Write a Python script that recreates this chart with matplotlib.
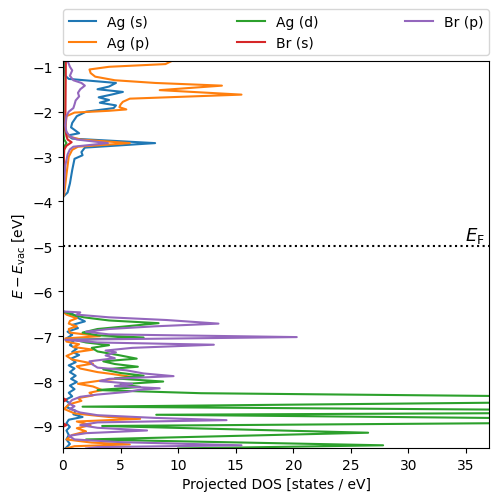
import numpy as np
import matplotlib
matplotlib.use("Agg")
import matplotlib.pyplot as plt

# ---------------- data (energy [eV], projected DOS [states/eV]) ----------------
ag_s_E_up = [-0.87, -1.20, -1.27, -1.36, -1.44, -1.50, -1.56, -1.62, -1.68, -1.74, -1.80, -1.86, -1.92,
             -2.00, -2.10, -2.25, -2.35, -2.48, -2.53, -2.60, -2.70, -2.80, -2.90, -2.97, -3.05, -3.30,
             -3.60, -3.80, -3.90]
ag_s_D_up = [0.1, 0.2, 0.5, 4.6, 4.0, 3.0, 5.2, 4.2, 3.1, 4.0, 3.2, 4.6, 4.4,
             2.0, 1.2, 0.8, 0.7, 1.4, 0.4, 0.8, 8.0, 1.9, 1.6, 1.7, 1.0, 0.8,
             0.6, 0.4, 0.0]
ag_s_E_lo = [-6.45, -6.50, -6.58, -6.67, -6.75, -6.82, -6.90, -6.97, -7.05, -7.12, -7.20, -7.28, -7.35,
             -7.42, -7.50, -7.58, -7.65, -7.72, -7.80, -7.88, -7.95, -8.02, -8.10, -8.18, -8.26, -8.34,
             -8.42, -8.50, -8.58, -8.66, -8.74, -8.80, -8.86, -8.94, -9.02, -9.10, -9.20, -9.30, -9.40, -9.50]
ag_s_D_lo = [0.0, 0.8, 1.2, 1.9, 0.8, 1.3, 0.4, 0.8, 0.3, 0.9, 0.6, 1.2, 0.8,
             1.4, 0.7, 1.1, 0.5, 1.0, 0.6, 1.1, 0.7, 1.2, 0.6, 1.0, 0.5, 0.8,
             0.2, 0.6, 0.3, 1.1, 0.9, 1.7, 0.5, 0.3, 0.6, 0.3, 0.5, 0.3, 0.6, 0.2]

ag_p_E_up = [-0.80, -0.94, -1.00, -1.06, -1.14, -1.22, -1.30, -1.36, -1.42, -1.52, -1.62, -1.71, -1.78,
             -1.84, -1.90, -1.95, -1.98, -2.02, -2.10, -2.40, -2.55, -2.62, -2.70, -2.78, -2.85, -3.00,
             -3.40, -3.85, -3.90]
ag_p_D_up = [10.0, 8.9, 4.0, 2.3, 2.4, 2.8, 4.5, 8.0, 13.8, 8.4, 15.5, 5.8, 5.2,
             5.0, 4.9, 5.5, 4.0, 1.0, 0.3, 0.2, 0.5, 1.5, 5.8, 1.3, 0.8, 0.5,
             0.3, 0.1, 0.0]
ag_p_E_lo = [-6.45, -6.52, -6.60, -6.66, -6.72, -6.78, -6.84, -6.92, -7.00, -7.05, -7.12, -7.18, -7.24,
             -7.30, -7.36, -7.44, -7.52, -7.61, -7.67, -7.72, -7.80, -7.84, -7.91, -7.98, -8.06, -8.12,
             -8.20, -8.26, -8.32, -8.38, -8.44, -8.52, -8.62, -8.72, -8.80, -8.84, -8.90, -8.98, -9.05,
             -9.12, -9.20, -9.30, -9.37, -9.41, -9.45, -9.50]
ag_p_D_lo = [0.0, 0.3, 1.2, 0.6, 0.5, 1.2, 0.5, 0.6, 3.2, 0.2, 0.3, 1.4, 0.9,
             2.6, 1.0, 0.3, 0.8, 2.6, 1.2, 1.5, 3.0, 4.2, 6.1, 3.5, 1.3, 2.6,
             3.4, 2.3, 2.6, 1.3, 1.6, 0.5, 0.1, 1.0, 4.0, 6.7, 1.2, 2.4, 1.2,
             2.0, 0.8, 0.3, 2.5, 5.8, 1.0, 0.3]

ag_d_E_up = [-0.87, -2.50, -2.62, -2.70, -2.78, -3.90]
ag_d_D_up = [0.05, 0.05, 0.1, 0.3, 0.1, 0.0]
ag_d_E_lo = [-6.45, -6.52, -6.58, -6.65, -6.71, -6.78, -6.84, -6.92, -6.98, -7.03, -7.08, -7.14, -7.20,
             -7.26, -7.34, -7.42, -7.50, -7.56, -7.62, -7.68, -7.74, -7.82, -7.88, -7.94, -8.01, -8.07,
             -8.13, -8.20, -8.27, -8.35, -8.41, -8.47, -8.57, -8.64, -8.67, -8.71, -8.75, -8.84, -8.89,
             -8.93, -9.00, -9.15, -9.30, -9.43, -9.50]
ag_d_D_lo = [0.0, 0.8, 1.8, 4.0, 8.3, 5.5, 3.0, 1.7, 3.0, 7.0, 1.0, 2.0, 4.0,
             2.5, 3.0, 4.8, 6.4, 3.5, 4.5, 6.5, 3.5, 5.0, 7.0, 4.5, 8.7, 5.0,
             6.7, 3.0, 12.0, 45.0, 38.0, 42.0, 1.7, 40.0, 38.0, 42.0, 8.1, 45.0, 38.0,
             42.0, 3.4, 26.5, 2.0, 27.8, 10.0]

br_s_E_up = [-0.87, -2.40, -2.55, -2.62, -2.68, -2.76, -2.85, -3.90]
br_s_D_up = [0.25, 0.2, 0.3, 0.4, 0.75, 0.3, 0.1, 0.0]
br_s_E_lo = [-6.45, -8.38, -8.42, -8.46, -8.94, -8.98, -9.02, -9.50]
br_s_D_lo = [0.0, 0.0, 0.3, 0.0, 0.0, 0.3, 0.0, 0.0]

br_p_E_up = [-0.87, -1.00, -1.08, -1.20, -1.30, -1.36, -1.42, -1.50, -1.58, -1.66, -1.75, -1.84, -1.92,
             -2.00, -2.10, -2.30, -2.45, -2.55, -2.62, -2.70, -2.78, -2.84, -2.95, -3.20, -3.60, -3.90]
br_p_D_up = [0.4, 0.6, 0.8, 0.6, 0.9, 1.6, 1.9, 1.5, 1.3, 1.4, 1.1, 1.0, 0.9,
             0.5, 0.3, 0.2, 0.3, 0.6, 1.2, 3.9, 0.9, 0.6, 0.4, 0.2, 0.1, 0.0]
br_p_E_lo = [-6.45, -6.47, -6.52, -6.58, -6.64, -6.72, -6.78, -6.84, -6.90, -6.96, -7.02, -7.08, -7.14,
             -7.19, -7.26, -7.32, -7.36, -7.43, -7.49, -7.56, -7.62, -7.70, -7.76, -7.83, -7.89, -7.95,
             -8.00, -8.06, -8.11, -8.16, -8.20, -8.24, -8.30, -8.35, -8.42, -8.50, -8.56, -8.62, -8.70,
             -8.76, -8.82, -8.87, -8.92, -8.98, -9.04, -9.10, -9.16, -9.22, -9.30, -9.36, -9.43, -9.47, -9.50]
br_p_D_lo = [0.0, 1.5, 1.2, 4.0, 9.0, 13.5, 8.0, 4.0, 2.0, 4.0, 20.3, 0.2, 3.0,
             13.1, 6.0, 3.7, 4.6, 3.7, 4.5, 2.3, 2.5, 3.0, 5.5, 7.0, 9.6, 4.0,
             3.2, 6.0, 4.5, 8.4, 6.5, 5.6, 3.0, 1.5, 0.8, 0.5, 1.0, 0.6, 1.5,
             3.0, 8.0, 14.2, 3.0, 1.5, 3.0, 7.3, 2.0, 0.5, 1.0, 5.0, 15.5, 3.0, 2.0]

labels = ["Ag (s)", "Ag (p)", "Ag (d)", "Br (s)", "Br (p)"]
fermi_level = -5.0

series = [
    (ag_s_E_up, ag_s_D_up, ag_s_E_lo, ag_s_D_lo),
    (ag_p_E_up, ag_p_D_up, ag_p_E_lo, ag_p_D_lo),
    (ag_d_E_up, ag_d_D_up, ag_d_E_lo, ag_d_D_lo),
    (br_s_E_up, br_s_D_up, br_s_E_lo, br_s_D_lo),
    (br_p_E_up, br_p_D_up, br_p_E_lo, br_p_D_lo),
]

# ---------------- plot ----------------
fig = plt.figure(figsize=(4.98, 5.02), dpi=100)
ax = fig.add_axes([0.1265, 0.1056, 0.8555, 0.771])

colors = ["C0", "C1", "C2", "C3", "C4"]
for (Eu, Du, El, Dl), lab, c in zip(series, labels, colors):
    E = list(Eu) + [np.nan] + list(El)
    D = list(Du) + [np.nan] + list(Dl)
    ax.plot(D, E, color=c, label=lab, lw=1.5)

ax.axhline(fermi_level, color="k", ls=":", lw=1.5)
ax.text(36.6, fermi_level + 0.02, r"$E_\mathrm{F}$", ha="right", va="bottom", fontsize=13)

ax.set_xlim(0, 37)
ax.set_ylim(-9.49, -0.87)
ax.set_xlabel("Projected DOS [states / eV]")
ax.set_ylabel(r"$E - E_\mathrm{vac}$ [eV]")

ax.legend(loc="lower left", bbox_to_anchor=(0, 1.015, 1, 0.1), mode="expand",
          ncol=3, borderaxespad=0.0)

fig.savefig("out.png", dpi=100)
